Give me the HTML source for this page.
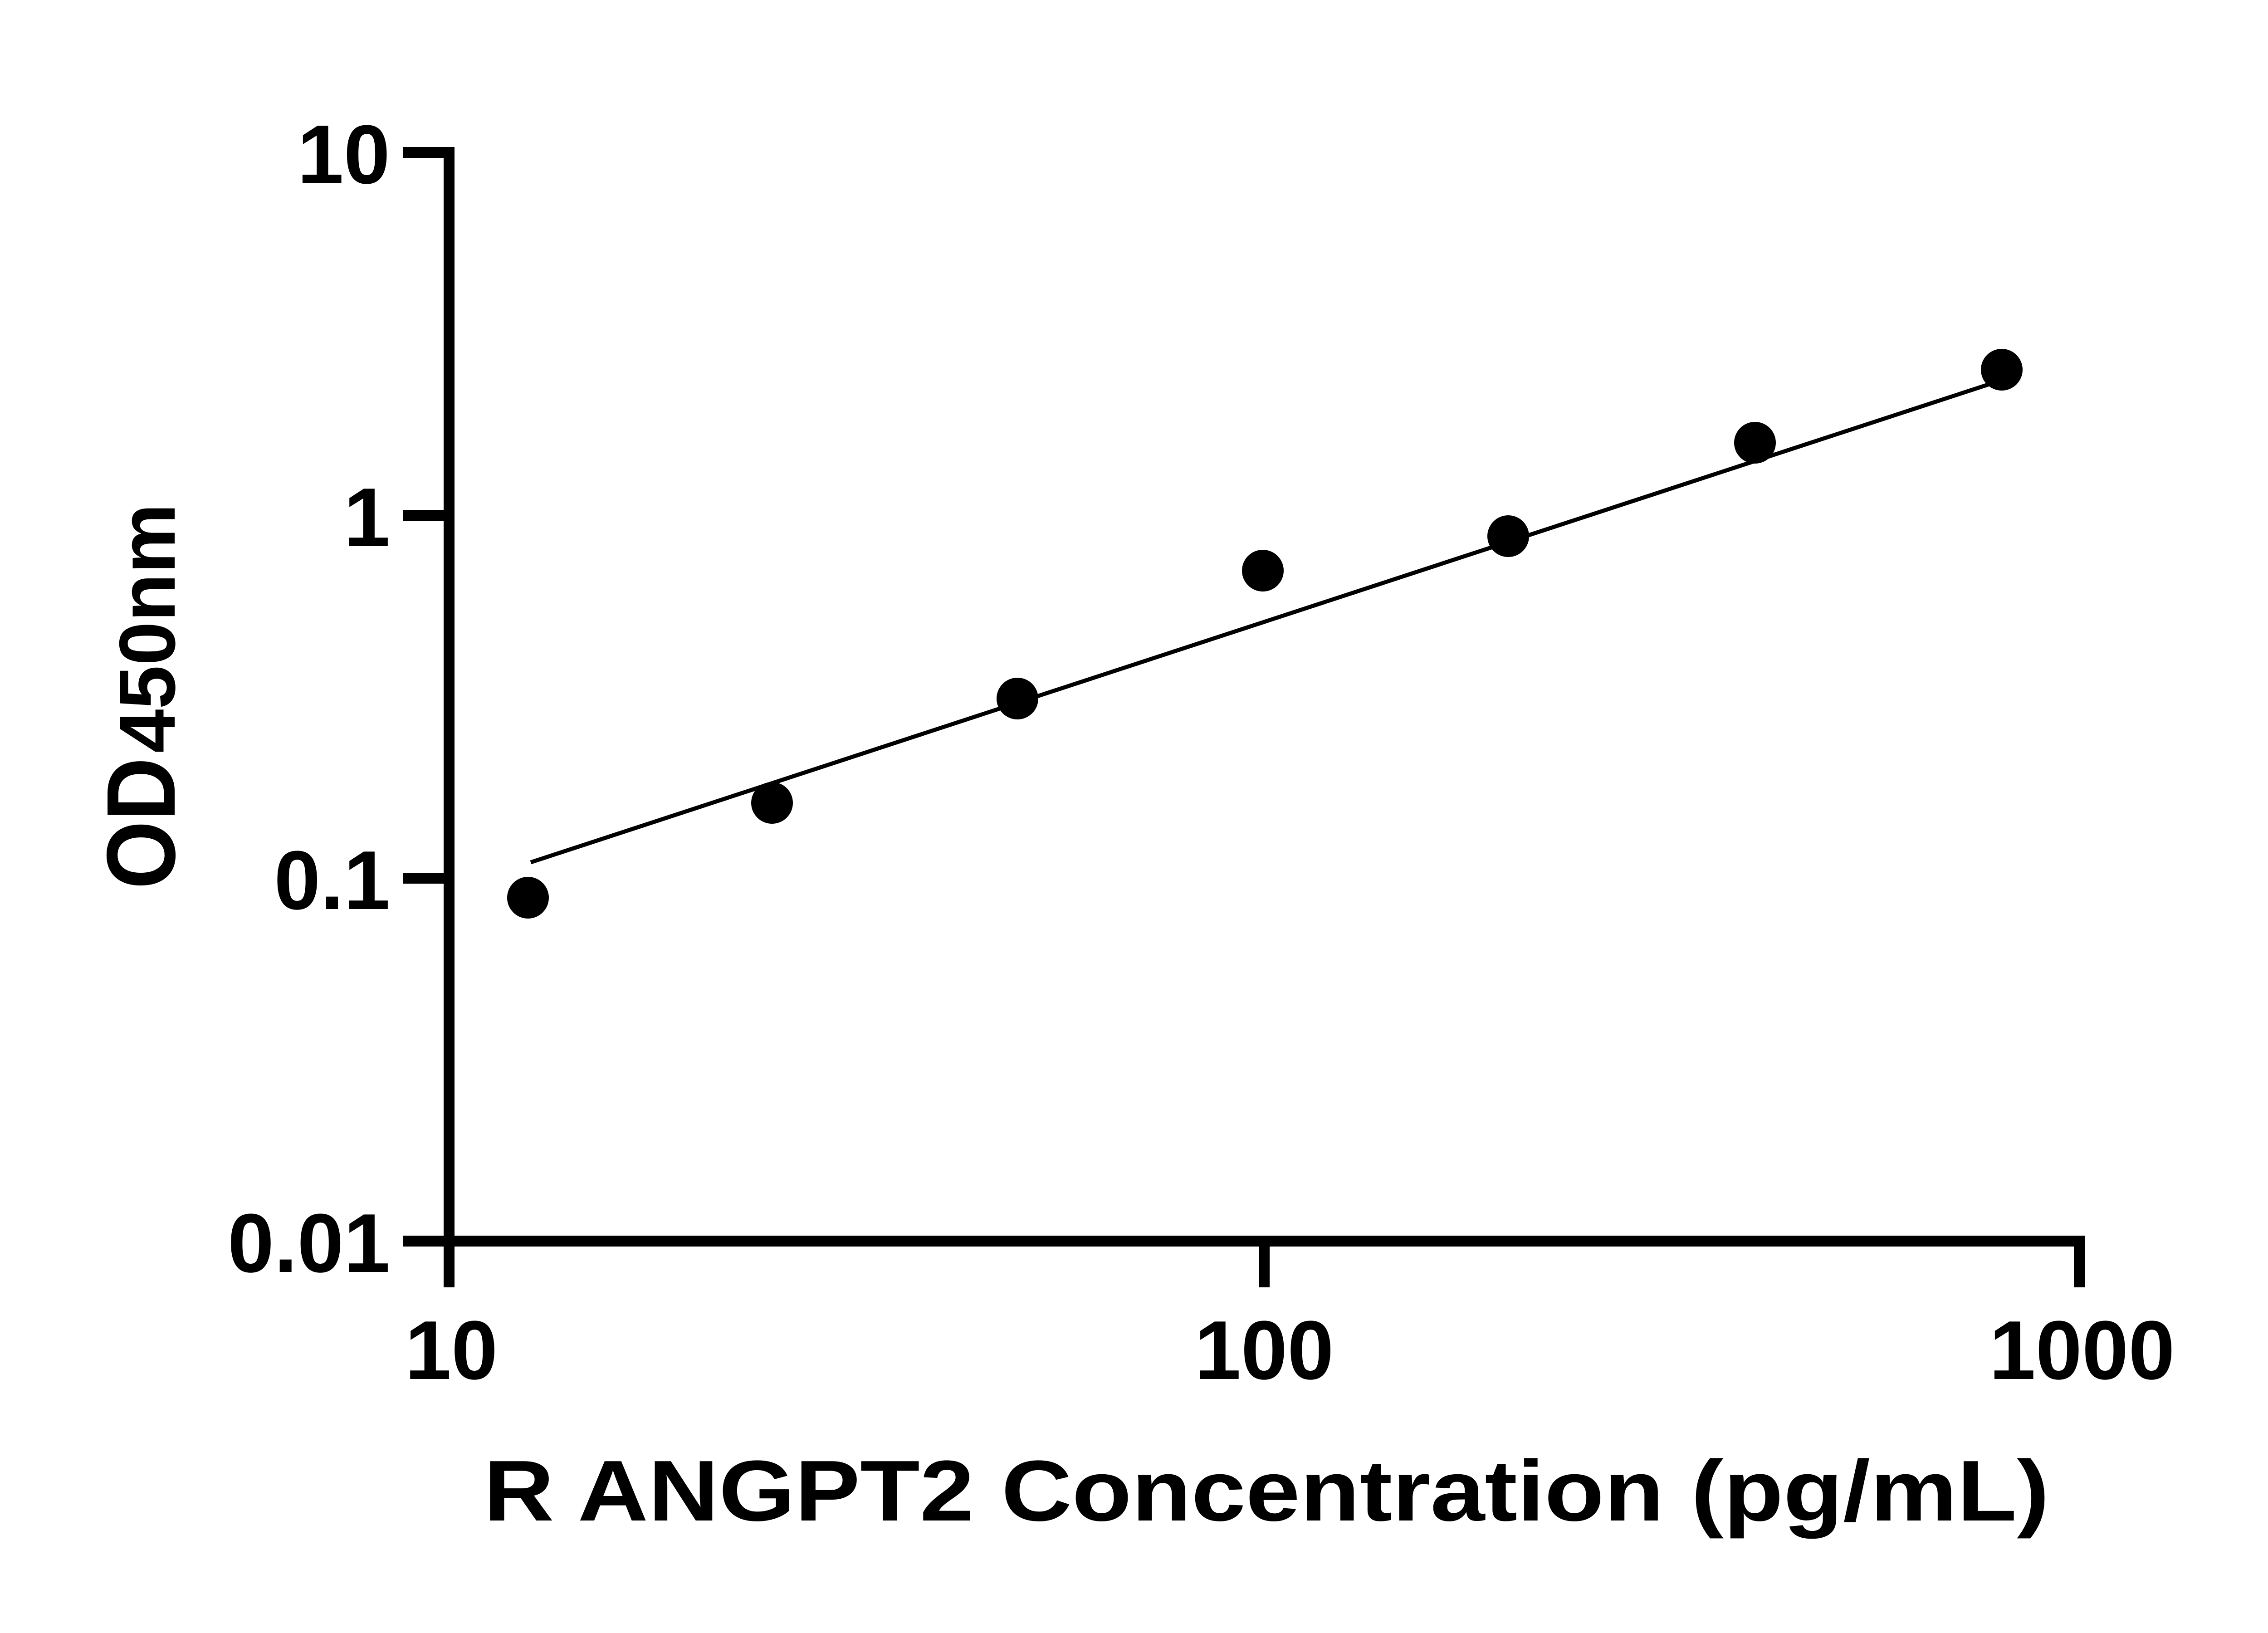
<!DOCTYPE html>
<html><head><style>html,body{margin:0;padding:0;background:#fff}svg{display:block}</style></head>
<body>
<svg xmlns="http://www.w3.org/2000/svg" width="5142" height="3600" viewBox="0 0 5142 3600">
<rect width="5142" height="3600" fill="#fff"/>
<g stroke="#000" stroke-width="24" fill="none" stroke-linecap="butt">
  <path d="M990 324 V2748"/>
  <path d="M978 2736 H4596"/>
  <path d="M888 336 H1002"/>
  <path d="M888 1136 H1002"/>
  <path d="M888 1936 H1002"/>
  <path d="M888 2736 H1002"/>
  <path d="M990 2736 V2838"/>
  <path d="M2787 2736 V2838"/>
  <path d="M4584 2724 V2838"/>
</g>
<path d="M1170 1901 L4413 838" stroke="#000" stroke-width="9" fill="none"/>
<g fill="#000">
  <circle cx="1164" cy="1979" r="46"/>
  <circle cx="1702" cy="1770" r="46"/>
  <circle cx="2243" cy="1540" r="46"/>
  <circle cx="2784" cy="1258" r="46"/>
  <circle cx="3325" cy="1182" r="46"/>
  <circle cx="3869" cy="976" r="46"/>
  <circle cx="4413" cy="815" r="46"/>
</g>
<g font-family="Liberation Sans, Arial, sans-serif" font-weight="bold" font-size="184" fill="#000">
  <g text-anchor="end">
    <text x="860" y="404">10</text>
    <text x="860" y="1204">1</text>
    <text x="860" y="2004">0.1</text>
    <text x="860" y="2804">0.01</text>
  </g>
  <g text-anchor="middle">
    <text x="995" y="3040">10</text>
    <text x="2787" y="3040">100</text>
    <text x="4590" y="3040">1000</text>
  </g>
  <text x="1066" y="3352" font-size="190" textLength="3452" lengthAdjust="spacingAndGlyphs">R ANGPT2 Concentration (pg/mL)</text>
  <g transform="translate(385,1960) rotate(-90)">
    <text x="0" y="0" font-size="215" textLength="290" lengthAdjust="spacingAndGlyphs">OD</text>
    <text x="300" y="0" font-size="175" textLength="550" lengthAdjust="spacingAndGlyphs">450nm</text>
  </g>
</g>
</svg>
</body></html>
